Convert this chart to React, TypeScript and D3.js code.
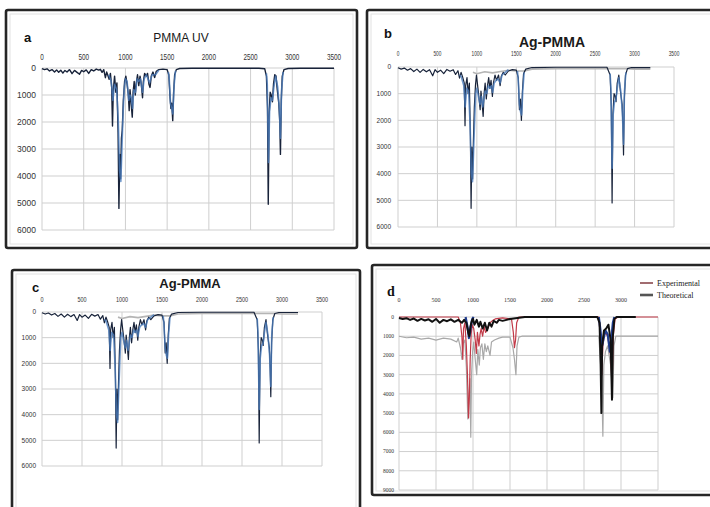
import React from 'react';
import * as d3 from 'd3';

type Pt = [number, number];

// ---- tick values ----
const xTicks = [0, 500, 1000, 1500, 2000, 2500, 3000, 3500];
const yTicks6 = [0, 1000, 2000, 3000, 4000, 5000, 6000];
const yTicks9 = [0, 1000, 2000, 3000, 4000, 5000, 6000, 7000, 8000, 9000];
const dXLabels = [0, 500, 1000, 1500, 2000, 2500, 3000]; // 3500 sits under the legend

// ---- panel a : PMMA UV ----
const pmmaDark: Pt[] = [
  [0, 20], [30, 60], [60, 30], [90, 110], [120, 60], [150, 150], [175, 70], [200, 160], [225, 80],
  [250, 190], [275, 90], [300, 150], [330, 60], [360, 210], [390, 90], [420, 160], [450, 230],
  [475, 90], [500, 140], [530, 70], [560, 200], [590, 60], [620, 110], [650, 40], [680, 80],
  [700, 50], [720, 160], [740, 60], [760, 360], [775, 150], [790, 280], [805, 420], [820, 200],
  [835, 700], [845, 2150], [855, 800], [870, 300], [885, 900], [898, 550], [912, 2400], [922, 5200],
  [932, 3200], [942, 4100], [952, 2600], [962, 2300], [975, 1200], [990, 500], [1005, 300],
  [1020, 600], [1035, 1000], [1045, 1580], [1055, 800], [1068, 1300], [1082, 1820], [1092, 900],
  [1105, 500], [1118, 1000], [1130, 550], [1145, 250], [1160, 650], [1175, 300], [1190, 600],
  [1205, 1100], [1215, 500], [1230, 200], [1250, 300], [1265, 200], [1282, 600], [1295, 720],
  [1310, 300], [1330, 150], [1350, 350], [1370, 120], [1400, 60], [1450, 40], [1500, 60],
  [1520, 250], [1535, 1100], [1545, 1500], [1555, 1300], [1567, 1950], [1578, 900], [1590, 250],
  [1610, 60], [1650, 20], [1800, 10], [2300, 10], [2600, 10], [2670, 30], [2690, 300],
  [2703, 1500], [2712, 5050], [2722, 1800], [2735, 900], [2748, 1000], [2762, 1250], [2775, 600],
  [2790, 250], [2805, 300], [2820, 800], [2838, 1300], [2850, 2000], [2858, 3200], [2868, 1200],
  [2880, 300], [2900, 60], [2950, 20], [3100, 10], [3500, 10],
];
// blue trace, only where it shows inside the bands
const pmmaBlueFinger: Pt[] = [
  [800, 250], [830, 500], [850, 1200], [870, 600], [895, 800], [915, 2000], [930, 3800],
  [945, 4200], [958, 3000], [970, 1800], [985, 800], [1000, 400], [1020, 500], [1040, 1200],
  [1055, 1000], [1070, 1100], [1085, 1500], [1100, 800], [1120, 900], [1140, 400], [1160, 500],
  [1180, 400], [1205, 900], [1225, 400], [1250, 250], [1290, 550], [1320, 250], [1360, 250],
  [1400, 80],
];
const pmmaBlueCO: Pt[] = [
  [1515, 150], [1525, 400], [1540, 1300], [1555, 1500], [1568, 1700], [1582, 700], [1600, 100],
];
const pmmaBlueCH: Pt[] = [
  [2690, 200], [2700, 600], [2715, 3500], [2728, 1600], [2745, 1100], [2762, 1200], [2780, 700],
  [2800, 300], [2825, 700], [2845, 1500], [2858, 2600], [2872, 800], [2890, 150],
];

// ---- panels b, c : Ag-PMMA ----
const agDark: Pt[] = [
  [0, 30], [40, 80], [80, 40], [120, 120], [160, 60], [200, 170], [240, 80], [280, 200], [320, 90],
  [360, 180], [400, 100], [440, 330], [470, 100], [500, 200], [540, 120], [580, 250], [620, 90],
  [660, 160], [700, 100], [730, 280], [760, 140], [780, 420], [800, 200], [820, 380], [840, 600],
  [850, 2200], [858, 700], [875, 400], [890, 1000], [905, 600], [918, 2600], [927, 5300],
  [936, 3000], [946, 4200], [956, 2800], [968, 1500], [982, 700], [995, 300], [1010, 700],
  [1025, 1100], [1042, 1600], [1052, 900], [1065, 1300], [1080, 1850], [1092, 1000], [1105, 600],
  [1120, 1200], [1135, 700], [1150, 400], [1165, 800], [1180, 500], [1197, 1100], [1210, 600],
  [1230, 300], [1250, 500], [1275, 300], [1295, 700], [1310, 350], [1335, 200], [1360, 300],
  [1400, 150], [1450, 100], [1500, 120], [1525, 400], [1540, 1600], [1552, 1200], [1565, 2000],
  [1578, 900], [1592, 250], [1620, 80], [1700, 20], [2000, 10], [2650, 10], [2690, 300],
  [2705, 1500], [2715, 5100], [2725, 1800], [2740, 1000], [2755, 1100], [2765, 1300], [2780, 600],
  [2800, 300], [2820, 900], [2842, 1400], [2852, 2200], [2860, 3300], [2870, 1200], [2885, 300],
  [2910, 60], [2960, 20], [3200, 20],
];
const agBlueFinger: Pt[] = [
  [780, 300], [800, 350], [835, 700], [852, 1500], [870, 800], [895, 900], [915, 2200],
  [930, 4000], [945, 4300], [958, 3200], [972, 2000], [985, 1000], [1000, 800], [1020, 1100],
  [1040, 1400], [1058, 1100], [1075, 1500], [1090, 1200], [1105, 900], [1125, 1000], [1145, 700],
  [1165, 800], [1185, 700], [1200, 950], [1220, 600], [1245, 500], [1270, 450], [1295, 600],
  [1320, 300], [1360, 200], [1400, 100],
];
const agBlueCO: Pt[] = [
  [1515, 150], [1525, 500], [1540, 1400], [1555, 1700], [1568, 1800], [1582, 900], [1600, 200],
];
const agBlueCH: Pt[] = [
  [2690, 250], [2700, 800], [2715, 3800], [2728, 1800], [2745, 1300], [2762, 1250], [2780, 800],
  [2800, 400], [2825, 900], [2845, 1700], [2860, 2900], [2872, 900], [2890, 200],
];
const agGray: Pt[] = [
  [950, 200], [1000, 250], [1100, 180], [1200, 220], [1300, 170], [1400, 120], [1500, 150],
  [1600, 150], [1700, 80], [2000, 60], [2500, 60], [2900, 60], [3000, 80], [3200, 80],
];

// ---- panel d : experimental vs theoretical ----
const dExperimental: Pt[] = [
  [0, 0], [800, 0], [830, 300], [850, 1000], [862, 2200], [872, 600], [890, 300], [910, 1500],
  [925, 3000], [940, 5250], [952, 4000], [962, 2200], [975, 900], [990, 400], [1010, 600],
  [1030, 1200], [1045, 1900], [1060, 800], [1080, 1500], [1095, 900], [1110, 600], [1130, 1000],
  [1150, 500], [1170, 800], [1200, 600], [1230, 300], [1260, 200], [1300, 100], [1400, 50],
  [1520, 100], [1545, 800], [1560, 1600], [1575, 1200], [1590, 300], [1620, 0], [2700, 0],
  [2720, 1000], [2740, 3000], [2755, 1500], [2780, 800], [2820, 1000], [2860, 2000], [2880, 3500],
  [2895, 1000], [2920, 100], [2960, 0], [3500, 0],
];
const dTheoretical: Pt[] = [
  [0, 1000], [100, 1080], [200, 1050], [300, 1150], [400, 1100], [500, 1200], [600, 1100],
  [700, 1150], [780, 1300], [800, 1100], [830, 1600], [850, 2200], [865, 1400], [890, 1200],
  [910, 2600], [930, 5300], [945, 4000], [958, 3200], [970, 6250], [980, 3000], [995, 1800],
  [1010, 1300], [1030, 2200], [1050, 3000], [1065, 1700], [1085, 2500], [1100, 1600],
  [1120, 1400], [1140, 2200], [1160, 1400], [1180, 1800], [1200, 1500], [1230, 2000],
  [1250, 1300], [1290, 1200], [1350, 1100], [1400, 1050], [1500, 1050], [1540, 1600],
  [1560, 2200], [1580, 3000], [1595, 1500], [1620, 1050], [1660, 1000], [2700, 1000],
  [2725, 2500], [2740, 3500], [2755, 6200], [2768, 2500], [2790, 1800], [2820, 1500],
  [2860, 2500], [2890, 4200], [2905, 1500], [2930, 1000], [3500, 1000],
];
const dDark: Pt[] = [
  [0, 50], [50, 100], [100, 60], [150, 150], [200, 80], [250, 200], [300, 100], [350, 180],
  [400, 120], [450, 250], [500, 100], [550, 300], [600, 150], [650, 220], [700, 120], [750, 250],
  [800, 150], [850, 300], [880, 150], [910, 300], [935, 800], [950, 1000], [965, 500], [985, 200],
  [1000, 100], [1020, 400], [1050, 150], [1080, 500], [1100, 250], [1130, 600], [1160, 300],
  [1190, 700], [1220, 300], [1250, 500], [1280, 200], [1320, 300], [1350, 150], [1400, 200],
  [1500, 100], [1600, 50], [1700, 0], [2680, 0], [2710, 300], [2725, 2500], [2735, 5000],
  [2745, 1500], [2770, 700], [2800, 600], [2830, 400], [2860, 1200], [2878, 4300], [2890, 1000],
  [2910, 100], [2940, 0], [3200, 0],
];
const dBlueFinger: Pt[] = [
  [900, 0], [930, 600], [945, 1100], [960, 800], [975, 400], [990, 100], [1010, 0],
];
const dBlueCH: Pt[] = [
  [2700, 0], [2720, 600], [2745, 1500], [2765, 1100], [2790, 700], [2820, 900], [2850, 1800],
  [2870, 1100], [2890, 300], [2910, 0],
];

const legendLabels = ['Experimental', 'Theoretical'];

type Series = { data: Pt[]; color: string; width: number; opacity?: number };
type Box = { x0: number; x1: number; y0: number; y1: number };

type PanelProps = {
  frame: { x: number; y: number; w: number; h: number };
  plot: Box;
  yTicks: number[];
  xLabels: number[];
  series: Series[];
  tickFont: string;
  xFont: number;
  xScaleX: number;
  xLabelY: number;
  yFont: number;
  yLabelX: number;
  title?: { text: string; x: number; y: number; size: number; bold: boolean };
  letter: { text: string; x: number; y: number; size: number; font: string };
};

function Panel(p: PanelProps) {
  const x = d3.scaleLinear().domain([0, 3500]).range([p.plot.x0, p.plot.x1]);
  const y = d3
    .scaleLinear()
    .domain([0, p.yTicks[p.yTicks.length - 1]])
    .range([p.plot.y0, p.plot.y1]);
  const line = d3
    .line<Pt>()
    .x((d) => x(d[0]))
    .y((d) => y(d[1]));

  return (
    <g>
      <rect
        x={p.frame.x}
        y={p.frame.y}
        width={p.frame.w}
        height={p.frame.h}
        rx={2}
        fill="#fff"
        stroke="#262626"
        strokeWidth={2.6}
      />
      <rect
        x={p.frame.x + 4}
        y={p.frame.y + 4}
        width={p.frame.w - 8}
        height={p.frame.h - 8}
        fill="none"
        stroke="#e2e2e2"
        strokeWidth={1}
      />
      {/* grid */}
      {xTicks.map((t) => (
        <line key={'vx' + t} x1={x(t)} x2={x(t)} y1={y.range()[0]} y2={y.range()[1]} stroke="#cfcfcf" strokeWidth={1} />
      ))}
      {p.yTicks.map((t) => (
        <line key={'hy' + t} x1={p.plot.x0} x2={p.plot.x1} y1={y(t)} y2={y(t)} stroke="#cfcfcf" strokeWidth={1} />
      ))}
      {/* spectra */}
      {p.series.map((s, i) => (
        <path
          key={i}
          d={line(s.data) || ''}
          fill="none"
          stroke={s.color}
          strokeWidth={s.width}
          strokeOpacity={s.opacity ?? 1}
          strokeLinejoin="round"
        />
      ))}
      {/* tick labels */}
      {p.xLabels.map((t) => (
        <text
          key={'xl' + t}
          transform={`translate(${x(t)},${p.xLabelY}) scale(${p.xScaleX},1)`}
          textAnchor="middle"
          fontFamily={p.tickFont}
          fontSize={p.xFont}
          fill="#333"
        >
          {t}
        </text>
      ))}
      {p.yTicks.map((t) => (
        <text
          key={'yl' + t}
          x={p.yLabelX}
          y={y(t)}
          dy="0.35em"
          textAnchor="end"
          fontFamily={p.tickFont}
          fontSize={p.yFont}
          fill="#333"
        >
          {t}
        </text>
      ))}
      {p.title && (
        <text
          x={p.title.x}
          y={p.title.y}
          textAnchor="middle"
          fontFamily="'Liberation Sans', Arial, sans-serif"
          fontSize={p.title.size}
          fontWeight={p.title.bold ? 'bold' : 'normal'}
          fill="#1a1a1a"
        >
          {p.title.text}
        </text>
      )}
      <text
        x={p.letter.x}
        y={p.letter.y}
        fontFamily={p.letter.font}
        fontSize={p.letter.size}
        fontWeight="bold"
        fill="#111"
      >
        {p.letter.text}
      </text>
    </g>
  );
}

const SANS = "'Liberation Sans', Arial, sans-serif";
const SERIF = "'Liberation Serif', 'Times New Roman', serif";
const DARK = '#18233a';
const BLUE = '#4a7cbc';

const blueStyle = { color: BLUE, width: 1.6, opacity: 0.78 };
const agSeries: Series[] = [
  { data: agGray, color: '#b5b5b5', width: 1.6 },
  { data: agDark, color: DARK, width: 1.2 },
  { data: agBlueFinger, ...blueStyle },
  { data: agBlueCO, ...blueStyle },
  { data: agBlueCH, ...blueStyle },
];

export default function App() {
  return (
    <svg
      width={710}
      height={507}
      style={{ position: 'absolute', left: 0, top: 0, background: '#fff' }}
    >
      <Panel
        frame={{ x: 6, y: 10, w: 351, h: 238 }}
        plot={{ x0: 42, x1: 334, y0: 68, y1: 230 }}
        yTicks={yTicks6}
        xLabels={xTicks}
        series={[
          { data: pmmaDark, color: DARK, width: 1.4 },
          { data: pmmaBlueFinger, ...blueStyle },
          { data: pmmaBlueCO, ...blueStyle },
          { data: pmmaBlueCH, ...blueStyle },
        ]}
        tickFont={SANS}
        xFont={8.5}
        xScaleX={0.75}
        xLabelY={60}
        yFont={8.5}
        yLabelX={36}
        title={{ text: 'PMMA UV', x: 181, y: 42, size: 12, bold: false }}
        letter={{ text: 'a', x: 24, y: 42, size: 13, font: SANS }}
      />
      <Panel
        frame={{ x: 367, y: 10, w: 350, h: 238 }}
        plot={{ x0: 398, x1: 674, y0: 67, y1: 227 }}
        yTicks={yTicks6}
        xLabels={xTicks}
        series={agSeries}
        tickFont={SANS}
        xFont={7}
        xScaleX={0.68}
        xLabelY={56}
        yFont={6.5}
        yLabelX={391}
        title={{ text: 'Ag-PMMA', x: 552, y: 47, size: 14, bold: true }}
        letter={{ text: 'b', x: 384, y: 38, size: 13, font: SANS }}
      />
      <Panel
        frame={{ x: 12, y: 270, w: 348, h: 260 }}
        plot={{ x0: 42, x1: 322, y0: 312, y1: 466 }}
        yTicks={yTicks6}
        xLabels={xTicks}
        series={agSeries}
        tickFont={SANS}
        xFont={7}
        xScaleX={0.78}
        xLabelY={302}
        yFont={6.5}
        yLabelX={36}
        title={{ text: 'Ag-PMMA', x: 190, y: 288, size: 13, bold: true }}
        letter={{ text: 'c', x: 32, y: 292, size: 13, font: SANS }}
      />
      <Panel
        frame={{ x: 372, y: 265, w: 350, h: 230 }}
        plot={{ x0: 399, x1: 658, y0: 317, y1: 490 }}
        yTicks={yTicks9}
        xLabels={dXLabels}
        series={[
          { data: dTheoretical, color: '#a8a8a8', width: 1.2 },
          { data: dExperimental, color: '#c23a48', width: 1.2 },
          { data: dBlueFinger, color: '#1f3c8f', width: 2.2 },
          { data: dBlueCH, color: '#1f3c8f', width: 2.2 },
          { data: dDark, color: '#111', width: 2 },
        ]}
        tickFont={SERIF}
        xFont={6}
        xScaleX={1}
        xLabelY={302}
        yFont={5.5}
        yLabelX={394}
        letter={{ text: 'd', x: 387, y: 296, size: 14, font: SERIF }}
      />
      {/* panel d legend */}
      <g fontFamily={SERIF} fontSize={8} fill="#222">
        <line x1={640} x2={653} y1={283} y2={283} stroke="#6e1c22" strokeWidth={1.3} />
        <text x={657} y={285.5}>{legendLabels[0]}</text>
        <line x1={640} x2={653} y1={295} y2={295} stroke="#555" strokeWidth={2.6} />
        <text x={657} y={297.5}>{legendLabels[1]}</text>
      </g>
    </svg>
  );
}
